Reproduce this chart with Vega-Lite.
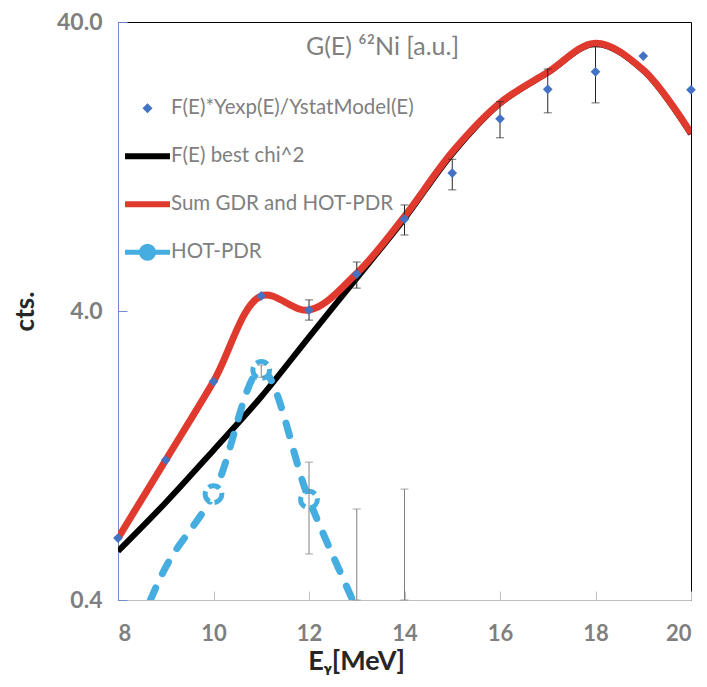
{
  "$schema": "https://vega.github.io/schema/vega-lite/v6.json",
  "width": 573,
  "height": 578,
  "autosize": {"type": "none"},
  "padding": {"left": 118, "top": 22, "right": 16, "bottom": 87},
  "background": "white",
  "config": {
    "font": "Lato",
    "view": {"stroke": "black", "strokeWidth": 1}
  },
  "title": {
    "text": "G(E) ⁶²Ni [a.u.]",
    "offset": -49,
    "dx": -22,
    "fontSize": 25,
    "fontWeight": "normal",
    "color": "#7F7F7F",
    "font": "Lato"
  },
  "data": {
    "values": [
      {"series": "F(E)*Yexp(E)/YstatModel(E)", "E": 8, "v": 0.655},
      {"series": "F(E)*Yexp(E)/YstatModel(E)", "E": 9, "v": 1.22},
      {"series": "F(E)*Yexp(E)/YstatModel(E)", "E": 10, "v": 2.28},
      {"series": "F(E)*Yexp(E)/YstatModel(E)", "E": 11, "v": 4.51},
      {"series": "F(E)*Yexp(E)/YstatModel(E)", "E": 12, "v": 4.03, "lo": 3.72, "hi": 4.37},
      {"series": "F(E)*Yexp(E)/YstatModel(E)", "E": 13, "v": 5.37, "lo": 4.8, "hi": 5.91},
      {"series": "F(E)*Yexp(E)/YstatModel(E)", "E": 14, "v": 8.32, "lo": 7.33, "hi": 9.31},
      {"series": "F(E)*Yexp(E)/YstatModel(E)", "E": 15, "v": 12.0, "lo": 10.5, "hi": 13.4},
      {"series": "F(E)*Yexp(E)/YstatModel(E)", "E": 16, "v": 18.5, "lo": 15.9, "hi": 21.2},
      {"series": "F(E)*Yexp(E)/YstatModel(E)", "E": 17, "v": 23.4, "lo": 19.4, "hi": 27.5},
      {"series": "F(E)*Yexp(E)/YstatModel(E)", "E": 18, "v": 26.9, "lo": 21.0, "hi": 32.8},
      {"series": "F(E)*Yexp(E)/YstatModel(E)", "E": 19, "v": 30.5},
      {"series": "F(E)*Yexp(E)/YstatModel(E)", "E": 20, "v": 23.3},
      {"series": "F(E) best chi^2", "E": 8, "v": 0.59},
      {"series": "F(E) best chi^2", "E": 9, "v": 0.87},
      {"series": "F(E) best chi^2", "E": 10, "v": 1.32},
      {"series": "F(E) best chi^2", "E": 11, "v": 2.02},
      {"series": "F(E) best chi^2", "E": 12, "v": 3.25},
      {"series": "F(E) best chi^2", "E": 13, "v": 5.2},
      {"series": "F(E) best chi^2", "E": 14, "v": 8.35},
      {"series": "F(E) best chi^2", "E": 15, "v": 14.0},
      {"series": "F(E) best chi^2", "E": 16, "v": 20.9},
      {"series": "F(E) best chi^2", "E": 17, "v": 26.7},
      {"series": "F(E) best chi^2", "E": 18, "v": 33.6},
      {"series": "F(E) best chi^2", "E": 19, "v": 27.2},
      {"series": "F(E) best chi^2", "E": 20, "v": 16.4},
      {"series": "Sum GDR and HOT-PDR", "E": 8, "v": 0.655},
      {"series": "Sum GDR and HOT-PDR", "E": 9, "v": 1.22},
      {"series": "Sum GDR and HOT-PDR", "E": 10, "v": 2.28},
      {"series": "Sum GDR and HOT-PDR", "E": 11, "v": 4.51},
      {"series": "Sum GDR and HOT-PDR", "E": 12, "v": 4.03},
      {"series": "Sum GDR and HOT-PDR", "E": 13, "v": 5.4},
      {"series": "Sum GDR and HOT-PDR", "E": 14, "v": 8.5},
      {"series": "Sum GDR and HOT-PDR", "E": 15, "v": 14.2},
      {"series": "Sum GDR and HOT-PDR", "E": 16, "v": 21.0},
      {"series": "Sum GDR and HOT-PDR", "E": 17, "v": 26.8},
      {"series": "Sum GDR and HOT-PDR", "E": 18, "v": 33.8},
      {"series": "Sum GDR and HOT-PDR", "E": 19, "v": 27.3},
      {"series": "Sum GDR and HOT-PDR", "E": 20, "v": 16.5},
      {"series": "HOT-PDR", "E": 8, "v": 0.21},
      {"series": "HOT-PDR", "E": 9, "v": 0.52},
      {"series": "HOT-PDR", "E": 10, "v": 0.93, "m": 1},
      {"series": "HOT-PDR", "E": 11, "v": 2.5, "m": 1, "lo": 2.36, "hi": 2.6},
      {"series": "HOT-PDR", "E": 12, "v": 0.89, "m": 1, "lo": 0.577, "hi": 1.2},
      {"series": "HOT-PDR", "E": 13, "v": 0.37, "lo": 0.4, "hi": 0.826},
      {"series": "HOT-PDR", "E": 14, "v": 0.15, "lo": 0.4, "hi": 0.968}
    ]
  },
  "encoding": {
    "x": {
      "field": "E", "type": "quantitative",
      "scale": {"domain": [8, 20], "nice": false, "zero": false},
      "axis": {
        "values": [8, 10, 12, 14, 16, 18, 20],
        "grid": false,
        "domainColor": "#BFBFBF", "tickColor": "#BFBFBF", "tickSize": -9,
        "labelFont": "Lato", "labelFontSize": 22, "labelFontWeight": "bold", "labelColor": "#7F7F7F",
        "labelPadding": 32,
        "title": "Eᵧ[MeV]", "titleFont": "Lato", "titleFontSize": 27, "titleFontWeight": "bold", "titleColor": "#262626",
        "titleX": 238, "titleAlign": "center", "titlePadding": 4
      }
    },
    "y": {
      "field": "v", "type": "quantitative",
      "scale": {"type": "log", "domain": [0.4, 40], "nice": false},
      "axis": {
        "values": [0.4, 4, 40], "format": ".1f",
        "grid": false,
        "domainColor": "#6F8CC8", "tickColor": "#6F8CC8", "tickSize": -9,
        "labelFont": "Lato", "labelFontSize": 23, "labelFontWeight": "bold", "labelColor": "#7F7F7F",
        "labelPadding": 25,
        "title": "cts.", "titleFont": "Lato", "titleFontSize": 26, "titleFontWeight": "bold", "titleColor": "#262626",
        "titlePadding": 18
      }
    }
  },
  "layer": [
    {
      "transform": [{"filter": "datum.series === 'F(E) best chi^2'"}],
      "mark": {"type": "line", "interpolate": "catmull-rom", "strokeWidth": 6, "clip": true},
      "encoding": {
        "color": {
          "field": "series", "type": "nominal",
          "scale": {
            "domain": ["F(E)*Yexp(E)/YstatModel(E)", "F(E) best chi^2", "Sum GDR and HOT-PDR", "HOT-PDR"],
            "range": ["#4472C4", "#000000", "#E03A2F", "#45ADE0"]
          },
          "legend": {
            "orient": "none", "legendX": 7, "legendY": 76, "title": null,
            "padding": 0,
            "gridAlign": "all",
            "symbolType": "stroke", "symbolSize": 2025, "symbolStrokeWidth": 6,
            "labelFont": "Lato", "labelFontSize": 20.5, "labelColor": "#7F7F7F", "labelOffset": 1,
            "labelLimit": 600,
            "rowPadding": 15,
            "encode": {
              "symbols": {
                "update": {
                  "x": {"value": 22.5},
                  "shape": {"signal": "datum.value === 'F(E)*Yexp(E)/YstatModel(E)' ? 'diamond' : (datum.value === 'HOT-PDR' ? 'M-1,0H-0.27M0.27,0H1M-0.27,0A0.27,0.27,0,1,1,0.27,0A0.27,0.27,0,1,1,-0.27,0' : 'stroke')"},
                  "size": {"signal": "datum.value === 'F(E)*Yexp(E)/YstatModel(E)' ? 100 : 2025"},
                  "strokeWidth": {"signal": "datum.value === 'F(E)*Yexp(E)/YstatModel(E)' ? 0 : (datum.value === 'HOT-PDR' ? 5 : 6)"},
                  "fill": {"signal": "datum.value === 'F(E)*Yexp(E)/YstatModel(E)' ? '#4472C4' : (datum.value === 'HOT-PDR' ? '#ffffff' : 'transparent')"},
                  "stroke": {"signal": "datum.value === 'F(E)*Yexp(E)/YstatModel(E)' ? '#4472C4' : (datum.value === 'F(E) best chi^2' ? '#000000' : (datum.value === 'HOT-PDR' ? '#45ADE0' : '#E03A2F'))"},
                  "opacity": {"value": 1},
                  "fillOpacity": {"value": 1},
                  "strokeOpacity": {"value": 1}
                }
              },
              "labels": {
                "update": {"x": {"value": 46}}
              }
            }
          }
        }
      }
    },
    {
      "transform": [{"filter": "datum.series === 'Sum GDR and HOT-PDR'"}],
      "mark": {"type": "line", "interpolate": "catmull-rom", "strokeWidth": 7, "clip": true},
      "encoding": {"color": {"field": "series", "type": "nominal"}}
    },
    {
      "transform": [{"filter": "datum.series === 'HOT-PDR'"}],
      "mark": {"type": "line", "interpolate": "catmull-rom", "strokeWidth": 7, "strokeDash": [13, 16], "strokeCap": "round", "clip": true},
      "encoding": {"color": {"field": "series", "type": "nominal"}}
    },
    {
      "transform": [{"filter": "datum.series === 'HOT-PDR' && datum.m === 1"}],
      "mark": {"type": "point", "shape": "circle", "size": 280, "filled": false, "fill": "#ffffff", "fillOpacity": 1, "stroke": "#45ADE0", "strokeWidth": 5, "strokeDash": [12, 5], "opacity": 1},
      "encoding": {}
    },
    {
      "transform": [{"filter": "datum.series === 'HOT-PDR' && isValid(datum.lo)"}],
      "mark": {"type": "errorbar", "ticks": {"size": 8}, "color": "#808080", "thickness": 1},
      "encoding": {"y": {"field": "lo", "type": "quantitative"}, "y2": {"field": "hi"}}
    },
    {
      "transform": [{"filter": "datum.series === 'F(E)*Yexp(E)/YstatModel(E)' && isValid(datum.lo)"}],
      "mark": {"type": "errorbar", "ticks": {"size": 8}, "color": "#262626", "thickness": 1},
      "encoding": {"y": {"field": "lo", "type": "quantitative"}, "y2": {"field": "hi"}}
    },
    {
      "transform": [{"filter": "datum.series === 'F(E)*Yexp(E)/YstatModel(E)'"}],
      "mark": {"type": "point", "shape": "diamond", "filled": true, "size": 95, "opacity": 1},
      "encoding": {"color": {"field": "series", "type": "nominal"}}
    }
  ]
}
